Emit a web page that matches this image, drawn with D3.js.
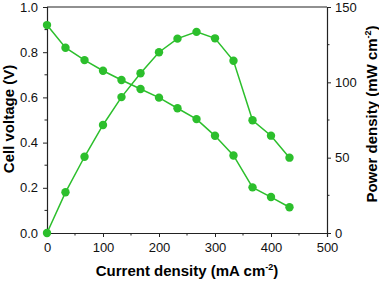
<!DOCTYPE html>
<html>
<head>
<meta charset="utf-8">
<script src="https://cdn.jsdelivr.net/npm/d3@7"></script>
<style>
  body { margin: 0; background: #fff; }
  text { font-family: "Liberation Sans", Arial, sans-serif; }
</style>
</head>
<body>
<svg id="chart"></svg>
<script>
// current density (mA cm-2)
var current = [0, 33, 67, 100, 133, 167, 200, 233, 267, 300, 333, 367, 400, 433];
// cell voltage (V)
var voltage = [0.92, 0.82, 0.765, 0.718, 0.677, 0.637, 0.599, 0.552, 0.504, 0.43, 0.343, 0.202, 0.159, 0.114];
// power density (mW cm-2)
var power = [0, 27, 50.6, 71.7, 90.2, 106, 120, 129, 133.5, 129.2, 114.3, 74.8, 64.6, 50];

var xTicks = [0, 100, 200, 300, 400, 500];
var yTicks = [0.0, 0.2, 0.4, 0.6, 0.8, 1.0];
var y2Ticks = [0, 50, 100, 150];

var W = 379, H = 282;
var m = { left: 47, right: 52, top: 7, bottom: 49 };
var green = "#2cbf2c";

var svg = d3.select("#chart").attr("width", W).attr("height", H);

var x = d3.scaleLinear().domain([0, 500]).range([m.left, W - m.right]);
var y = d3.scaleLinear().domain([0, 1]).range([H - m.bottom, m.top]);
var y2 = d3.scaleLinear().domain([0, 150]).range([H - m.bottom, m.top]);

// minor ticks
var minorX = d3.range(50, 500, 100);
var minorY = d3.range(0.1, 1, 0.2);
var minorY2 = [25, 75, 125];

var axisColor = "#222";

var gx = svg.append("g").attr("transform", "translate(0," + (H - m.bottom) + ")")
  .call(d3.axisBottom(x).tickValues(xTicks).tickSize(4).tickPadding(6).tickFormat(d3.format("d")));
gx.selectAll(".minor").data(minorX).enter().append("line")
  .attr("x1", d => x(d)).attr("x2", d => x(d)).attr("y1", 0).attr("y2", 2.5).attr("stroke", axisColor);

var gy = svg.append("g").attr("transform", "translate(" + m.left + ",0)")
  .call(d3.axisLeft(y).tickValues(yTicks).tickSize(4).tickPadding(5).tickFormat(d3.format(".1f")));
gy.selectAll(".minor").data(minorY).enter().append("line")
  .attr("y1", d => y(d)).attr("y2", d => y(d)).attr("x1", 0).attr("x2", -2.5).attr("stroke", axisColor);

var gy2 = svg.append("g").attr("transform", "translate(" + (W - m.right) + ",0)")
  .call(d3.axisRight(y2).tickValues(y2Ticks).tickSize(4).tickPadding(4).tickFormat(d3.format("d")));
gy2.selectAll(".minor").data(minorY2).enter().append("line")
  .attr("y1", d => y2(d)).attr("y2", d => y2(d)).attr("x1", 0).attr("x2", 2.5).attr("stroke", axisColor);

// top frame line
svg.append("line").attr("x1", m.left).attr("x2", W - m.right)
  .attr("y1", m.top).attr("y2", m.top).attr("stroke", axisColor).attr("stroke-width", 1.2);

svg.selectAll(".domain").attr("stroke", axisColor).attr("stroke-width", 1.2);
svg.selectAll(".tick line").attr("stroke", axisColor);
svg.selectAll(".tick text").attr("font-size", 13).attr("fill", "#111")
  .style("font-family", "'Liberation Sans', Arial, sans-serif");

// series
var idx = d3.range(current.length);
var lineV = d3.line().x(i => x(current[i])).y(i => y(voltage[i]));
var lineP = d3.line().x(i => x(current[i])).y(i => y2(power[i]));

svg.append("path").attr("d", lineV(idx)).attr("fill", "none").attr("stroke", green).attr("stroke-width", 1.5);
svg.append("path").attr("d", lineP(idx)).attr("fill", "none").attr("stroke", green).attr("stroke-width", 1.5);

svg.selectAll(".pv").data(idx).enter().append("circle")
  .attr("cx", i => x(current[i])).attr("cy", i => y(voltage[i])).attr("r", 4.2).attr("fill", green);
svg.selectAll(".pp").data(idx).enter().append("circle")
  .attr("cx", i => x(current[i])).attr("cy", i => y2(power[i])).attr("r", 4.2).attr("fill", green);

// axis titles
svg.append("text").attr("x", 187).attr("y", 276)
  .attr("text-anchor", "middle").attr("font-size", 15).attr("font-weight", "bold")
  .html("Current density (mA cm<tspan dy='-6' font-size='9'>-2</tspan><tspan dy='6'>)</tspan>");

svg.append("text").attr("transform", "translate(14,119) rotate(-90)")
  .attr("text-anchor", "middle").attr("font-size", 15).attr("font-weight", "bold")
  .text("Cell voltage (V)");

svg.append("text").attr("transform", "translate(377,114) rotate(-90)")
  .attr("text-anchor", "middle").attr("font-size", 15).attr("font-weight", "bold")
  .html("Power density (mW cm<tspan dy='-6' font-size='9'>-2</tspan><tspan dy='6'>)</tspan>");
</script>
</body>
</html>
